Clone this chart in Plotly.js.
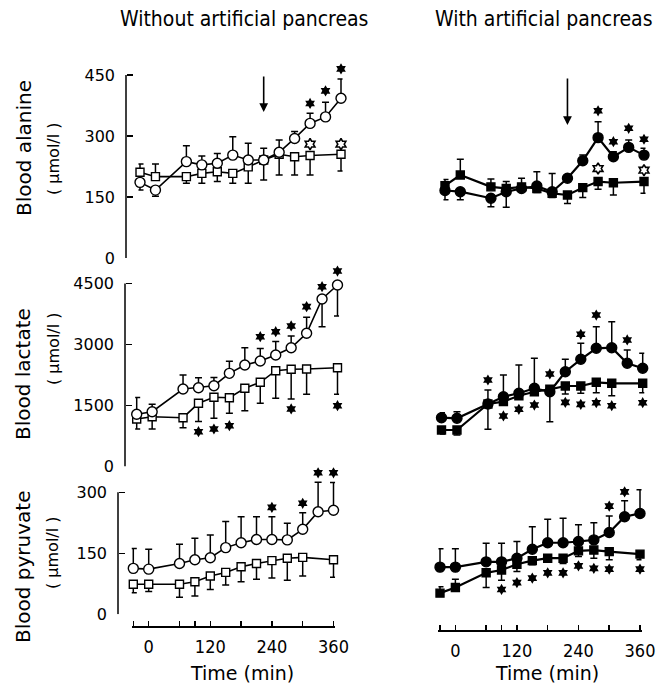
<!DOCTYPE html>
<html><head><meta charset="utf-8">
<script src="https://cdn.plot.ly/plotly-3.0.1.min.js"></script>
<style>html,body{margin:0;padding:0;background:#fff}</style>
</head><body><div id="chart" style="width:656px;height:690px"></div>
<script>
// ---------- data ----------
const time   = [-30, 0, 60, 90, 120, 150, 180, 210, 240, 270, 300, 330, 360];
const timeSq = [-30, 0, 60, 90, 120, 150, 180, 210, 240, 270, 300, 360];
const xTickVals = [-30, 0, 60, 90, 120, 180, 240, 300, 360];
const xTickText = ['', '0', '', '', '120', '', '240', '', '360'];
const alaTicks = [0, 150, 300, 450];
const lacTicks = [0, 1500, 3000, 4500];
const pyrTicks = [0, 150, 300];

// Alanine, without artificial pancreas
const alaWoCirc   = [186, 167, 237, 229, 233, 253, 241, 241, 260, 294, 331, 347, 393];
const alaWoCircUp = [0, 0, 39, 22, 24, 45, 41, 29, 30, 17, 25, 36, 47];
const alaWoCircDn = [19, 15, 0, 0, 0, 0, 0, 0, 0, 0, 0, 0, 0];
const alaWoSq     = [211, 200, 200, 208, 212, 208, 224, 241, 255, 249, 252, 255];
const alaWoSqUp   = [20, 31, 0, 0, 0, 0, 0, 0, 0, 0, 0, 0];
const alaWoSqDn   = [0, 0, 16, 24, 24, 24, 40, 49, 51, 45, 48, 41];
const alaWoStarT = [300, 330, 360], alaWoStarY = [380, 411, 465];
const alaWoOStarT = [300, 360],     alaWoOStarY = [280, 280];

// Alanine, with artificial pancreas
const alaWCirc   = [166, 163, 147, 163, 171, 177, 163, 196, 239, 296, 249, 272, 253];
const alaWCircUp = [0, 0, 0, 0, 25, 35, 45, 0, 14, 39, 12, 18, 17];
const alaWCircDn = [23, 20, 21, 38, 0, 0, 0, 0, 0, 0, 0, 0, 0];
const alaWSq     = [178, 204, 175, 171, 175, 171, 159, 155, 173, 188, 185, 188];
const alaWSqUp   = [15, 39, 19, 17, 0, 0, 0, 0, 0, 0, 0, 0];
const alaWSqDn   = [0, 0, 0, 0, 10, 10, 10, 21, 24, 19, 30, 29];
const alaWStarT = [270, 300, 330, 360], alaWStarY = [362, 286, 319, 292];
const alaWOStarT = [270, 360],          alaWOStarY = [220, 216];

// Lactate, without artificial pancreas
const lacWoCirc   = [1284, 1348, 1906, 1938, 1987, 2291, 2496, 2594, 2742, 2921, 3275, 4119, 4463];
const lacWoCircUp = [410, 180, 345, 245, 200, 300, 425, 310, 330, 290, 395, 0, 0];
const lacWoCircDn = [0, 0, 0, 0, 0, 0, 0, 0, 0, 0, 0, 680, 760];
const lacWoSq     = [1168, 1225, 1200, 1554, 1701, 1692, 1923, 2070, 2356, 2390, 2398, 2430];
const lacWoSqUp   = [0, 0, 0, 0, 0, 0, 0, 0, 0, 0, 0, 0];
const lacWoSqDn   = [245, 300, 246, 450, 516, 384, 550, 516, 680, 730, 623, 655];
const lacWoStarT  = [210, 240, 270, 300, 330, 360], lacWoStarY = [3192, 3315, 3455, 3930, 4421, 4807];
const lacWoStar2T = [90, 120, 150, 270, 360],       lacWoStar2Y = [856, 922, 1003, 1414, 1495];

// Lactate, with artificial pancreas
const lacWCirc   = [1200, 1185, 1537, 1716, 1800, 1923, 1839, 2331, 2636, 2906, 2921, 2538, 2415];
const lacWCircUp = [123, 160, 344, 534, 696, 737, 0, 305, 393, 532, 640, 327, 368];
const lacWCircDn = [0, 0, 0, 0, 0, 0, 737, 0, 0, 0, 0, 0, 0];
const lacWSq     = [898, 898, 1537, 1594, 1741, 1839, 1898, 1980, 1980, 2070, 2046, 2046];
const lacWSqUp   = [0, 0, 0, 0, 0, 0, 0, 0, 0, 0, 0, 0];
const lacWSqDn   = [100, 123, 623, 0, 0, 0, 0, 197, 180, 255, 305, 230];
const lacWStarT  = [60, 180, 240, 270, 330],             lacWStarY = [2127, 2275, 3251, 3725, 3111];
const lacWStar2T = [90, 120, 150, 210, 240, 270, 300, 360], lacWStar2Y = [1242, 1407, 1512, 1578, 1529, 1569, 1495, 1569];

// Pyruvate, without artificial pancreas
const pyrWoCirc   = [113, 111, 125, 134, 139, 164, 176, 184, 184, 183, 209, 252, 256];
const pyrWoCircUp = [49, 49, 47, 53, 56, 64, 64, 56, 56, 41, 41, 73, 68];
const pyrWoCircDn = [0, 0, 0, 0, 0, 0, 0, 0, 0, 0, 0, 0, 0];
const pyrWoSq     = [74, 74, 74, 80, 94, 103, 117, 125, 132, 138, 140, 134];
const pyrWoSqUp   = [0, 0, 0, 0, 0, 0, 0, 0, 0, 0, 0, 0];
const pyrWoSqDn   = [21, 18, 32, 35, 33, 31, 37, 39, 43, 54, 46, 43];
const pyrWoStarT = [240, 300, 330, 360], pyrWoStarY = [263, 273, 348, 348];

// Pyruvate, with artificial pancreas
const pyrWCirc   = [116, 116, 129, 129, 138, 160, 176, 176, 179, 183, 201, 240, 248];
const pyrWCircUp = [45, 45, 46, 46, 41, 55, 58, 60, 41, 42, 41, 39, 58];
const pyrWCircDn = [0, 0, 0, 0, 0, 0, 0, 0, 0, 0, 0, 0, 0];
const pyrWSq     = [52, 66, 102, 109, 123, 132, 138, 138, 156, 158, 154, 148];
const pyrWSqUp   = [16, 20, 0, 0, 0, 0, 0, 0, 0, 0, 0, 0];
const pyrWSqDn   = [0, 0, 36, 25, 18, 10, 10, 13, 14, 20, 20, 14];
const pyrWStarT  = [300, 330], pyrWStarY = [266, 301];
const pyrWStar2T = [90, 120, 150, 180, 210, 240, 270, 300, 360], pyrWStar2Y = [61, 78, 89, 102, 102, 119, 113, 111, 111];

// arrow (start of intervention)
const arrowT = 210;
const arrowWo = [450, 359], arrowW = [445, 327];

// ---------- layout helpers ----------
const W = 656, H = 690;
const px = x => x / W;
const py = y => 1 - y / H;
const XR = [-33, 363];
function xdom(p1, p2) { const s = (p2 - p1) / 390; return [px(p1 - 3 * s), px(p2 + 3 * s)]; }
// y domain: pixel of 0, pixel of top tick, top tick value, range max
function ydom(p0, pT, tMax, rMax) { return [py(p0), py(p0 - rMax / tMax * (p0 - pT))]; }
const FONT_C = 'DejaVu Sans Condensed, DejaVu Sans, sans-serif';
const FONT = 'DejaVu Sans, sans-serif';

const YR = { top: [0, 480], mid: [0, 4900], bot: [0, 360] };
const rows = {
  top: ydom(258, 75, 450, YR.top[1]),
  mid: ydom(466.5, 283.5, 4500, YR.mid[1]),
  bot: ydom(614.3, 492.3, 300, YR.bot[1])
};

function series(xa, ya, t, y, up, dn, sym, fill, size, lw) {
  return { type: 'scatter', mode: 'lines+markers', x: t, y: y, xaxis: xa, yaxis: ya,
    line: { color: '#000', width: lw },
    marker: { symbol: sym, size: size, color: fill, line: { color: '#000', width: 1.4 } },
    error_y: { type: 'data', symmetric: false, array: up, arrayminus: dn, color: '#000', thickness: 1.5, width: 3.5 },
    cliponaxis: false, hoverinfo: 'skip', showlegend: false };
}
function stars(xa, ya, t, y, open) {
  return { type: 'scatter', mode: 'markers', x: t, y: y, xaxis: xa, yaxis: ya,
    marker: { symbol: open ? 'hexagram-open' : 'hexagram', size: 8.5, color: '#000', line: { color: '#000', width: open ? 1.6 : 0 } },
    cliponaxis: false, hoverinfo: 'skip', showlegend: false };
}

const data = [
  series('x', 'y', timeSq, alaWoSq, alaWoSqUp, alaWoSqDn, 'square', '#fff', 8, 1.6),
  series('x', 'y', time, alaWoCirc, alaWoCircUp, alaWoCircDn, 'circle', '#fff', 10, 1.6),
  stars('x', 'y', alaWoStarT, alaWoStarY, false),
  stars('x', 'y', alaWoOStarT, alaWoOStarY, true),

  series('x2', 'y2', timeSq, alaWSq, alaWSqUp, alaWSqDn, 'square', '#000', 8, 2.2),
  series('x2', 'y2', time, alaWCirc, alaWCircUp, alaWCircDn, 'circle', '#000', 10, 2.2),
  stars('x2', 'y2', alaWStarT, alaWStarY, false),
  stars('x2', 'y2', alaWOStarT, alaWOStarY, true),

  series('x3', 'y3', timeSq, lacWoSq, lacWoSqUp, lacWoSqDn, 'square', '#fff', 8, 1.6),
  series('x3', 'y3', time, lacWoCirc, lacWoCircUp, lacWoCircDn, 'circle', '#fff', 10, 1.6),
  stars('x3', 'y3', lacWoStarT, lacWoStarY, false),
  stars('x3', 'y3', lacWoStar2T, lacWoStar2Y, false),

  series('x4', 'y4', timeSq, lacWSq, lacWSqUp, lacWSqDn, 'square', '#000', 8, 2.2),
  series('x4', 'y4', time, lacWCirc, lacWCircUp, lacWCircDn, 'circle', '#000', 10, 2.2),
  stars('x4', 'y4', lacWStarT, lacWStarY, false),
  stars('x4', 'y4', lacWStar2T, lacWStar2Y, false),

  series('x5', 'y5', timeSq, pyrWoSq, pyrWoSqUp, pyrWoSqDn, 'square', '#fff', 8, 1.6),
  series('x5', 'y5', time, pyrWoCirc, pyrWoCircUp, pyrWoCircDn, 'circle', '#fff', 10, 1.6),
  stars('x5', 'y5', pyrWoStarT, pyrWoStarY, false),

  series('x6', 'y6', timeSq, pyrWSq, pyrWSqUp, pyrWSqDn, 'square', '#000', 8, 2.2),
  series('x6', 'y6', time, pyrWCirc, pyrWCircUp, pyrWCircDn, 'circle', '#000', 10, 2.2),
  stars('x6', 'y6', pyrWStarT, pyrWStarY, false),
  stars('x6', 'y6', pyrWStar2T, pyrWStar2Y, false)
];

function hiddenX(dom, anchor) {
  return { domain: dom, range: XR, anchor: anchor, visible: false, fixedrange: true };
}
function shownX(dom, posPx) {
  return { domain: dom, range: XR, anchor: 'free', position: py(posPx), showline: true, linecolor: '#000', linewidth: 1.5,
    ticks: 'inside', ticklen: 5, tickwidth: 1.5, tickcolor: '#000', tickvals: xTickVals, ticktext: xTickText,
    tickfont: { family: FONT_C, size: 18, color: '#000' }, ticklabelstandoff: 4,
    showgrid: false, zeroline: false, fixedrange: true };
}
function shownY(dom, rng, ticks, posPx) {
  return { domain: dom, range: rng, anchor: 'free', position: px(posPx), showline: false,
    ticks: 'inside', ticklen: 6, tickwidth: 1.5, tickcolor: '#000', tickvals: ticks, ticktext: ticks.map(String),
    tickfont: { family: FONT, size: 16, color: '#000' }, ticklabelstandoff: 11,
    showgrid: false, zeroline: false, fixedrange: true };
}
function hiddenY(dom, rng, anchor) {
  return { domain: dom, range: rng, anchor: anchor, visible: false, fixedrange: true };
}
function yLine(ya, xPx, ticks) {
  return { type: 'line', xref: 'paper', yref: ya, x0: px(xPx), x1: px(xPx), y0: ticks[0], y1: ticks[ticks.length - 1],
    line: { color: '#000', width: 1.5 } };
}

function ann(text, xPx, yPx, size, angle, fam) {
  return { text: text, xref: 'paper', yref: 'paper', x: px(xPx), y: py(yPx), xanchor: 'center', yanchor: 'middle',
    showarrow: false, textangle: angle || 0, font: { family: fam || FONT, size: size, color: '#000' } };
}
function arrow(xa, ya, yFromTo) {
  return { xref: xa, yref: ya, axref: xa, ayref: ya, x: arrowT, y: yFromTo[1], ax: arrowT, ay: yFromTo[0],
    showarrow: true, arrowhead: 2, arrowsize: 1.1, arrowwidth: 1.6, arrowcolor: '#000', standoff: 0, text: '' };
}

const layout = {
  width: W, height: H, margin: { l: 0, r: 0, t: 0, b: 0 },
  paper_bgcolor: '#fff', plot_bgcolor: 'rgba(0,0,0,0)', showlegend: false, hovermode: false,
  xaxis:  hiddenX(xdom(140, 341), 'y'),
  xaxis2: hiddenX(xdom(445, 644), 'y2'),
  xaxis3: hiddenX(xdom(136.7, 337.5), 'y3'),
  xaxis4: hiddenX(xdom(441.5, 642.7), 'y4'),
  xaxis5: shownX(xdom(133.3, 333.5), 626),
  xaxis6: shownX(xdom(440, 640), 630),
  yaxis:  shownY(rows.top, YR.top, alaTicks, 126),
  yaxis2: hiddenY(rows.top, YR.top, 'x2'),
  yaxis3: shownY(rows.mid, YR.mid, lacTicks, 125),
  yaxis4: hiddenY(rows.mid, YR.mid, 'x4'),
  yaxis5: shownY(rows.bot, YR.bot, pyrTicks, 118),
  yaxis6: hiddenY(rows.bot, YR.bot, 'x6'),
  shapes: [yLine('y', 126, alaTicks), yLine('y3', 125, lacTicks), yLine('y5', 118, pyrTicks)],
  annotations: [
    ann('Without artificial pancreas', 243.5, 19, 21, 0, FONT_C),
    ann('With artificial pancreas', 543.5, 19, 21, 0, FONT_C),
    ann('Time (min)', 241.5, 673, 19),
    ann('Time (min)', 547, 673, 19),
    ann('Blood alanine', 24, 148, 20, -90),
    ann('( μmol/l )', 53, 159, 16, -90),
    ann('Blood lactate', 23, 374, 20, -90),
    ann('( μmol/l )', 53, 349, 16, -90),
    ann('Blood pyruvate', 23, 567, 20, -90),
    ann('( μmol/l )', 52, 553, 16, -90),
    arrow('x', 'y', arrowWo),
    arrow('x2', 'y2', arrowW)
  ]
};

Plotly.newPlot('chart', data, layout, { displayModeBar: false, staticPlot: true });
</script>
</body></html>
